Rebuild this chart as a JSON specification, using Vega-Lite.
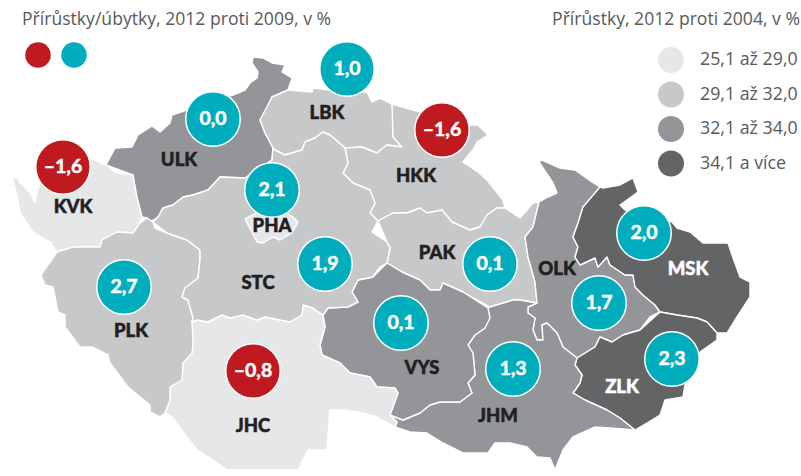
{
"$schema":"https://vega.github.io/schema/vega-lite/v6.json",
"width":801,"height":476,
"autosize":{"type":"fit","contains":"padding"},
"background":"white",
"padding":0,
"view":{"stroke":null},
"projection":{"type":"identity","scale":1,"translate":[0,0]},
"datasets":{
"kraje":[
{"type":"Feature","properties":{"kraj":"KVK","cat":"25,1 až 29,0"},"geometry":{"type":"Polygon","coordinates":[[[12,177],[18,178],[20,183],[25,187],[30,193],[35,203],[37,192],[40,183],[50,165],[63,155],[90,158],[106,165],[117,173],[133,175],[137,197],[142,217],[140,223],[133,233],[117,232],[102,240],[100,247],[73,247],[57,252],[50,242],[33,232],[20,213],[18,200],[8,188]]]}},
{"type":"Feature","properties":{"kraj":"ULK","cat":"32,1 až 34,0"},"geometry":{"type":"Polygon","coordinates":[[[106,165],[115,148],[132,147],[138,135],[152,126],[160,132],[170,123],[172,115],[187,110],[200,105],[233,95],[245,90],[250,83],[257,78],[258,72],[252,63],[253,57],[263,58],[272,63],[285,65],[282,72],[292,78],[288,90],[272,97],[268,110],[260,120],[265,133],[273,148],[272,160],[268,163],[245,178],[220,177],[208,190],[193,195],[183,197],[173,205],[163,208],[158,217],[150,222],[147,218],[142,217],[137,197],[133,175],[117,173]]]}},
{"type":"Feature","properties":{"kraj":"LBK","cat":"29,1 až 32,0"},"geometry":{"type":"Polygon","coordinates":[[[272,97],[288,90],[312,92],[313,88],[330,90],[367,92],[372,102],[380,98],[392,104],[395,120],[393,137],[402,147],[387,145],[377,153],[362,147],[345,148],[330,135],[323,132],[315,138],[305,142],[302,150],[285,155],[275,150],[273,148],[265,133],[260,120],[268,110]]]}},
{"type":"Feature","properties":{"kraj":"HKK","cat":"29,1 až 32,0"},"geometry":{"type":"Polygon","coordinates":[[[392,104],[420,112],[445,118],[468,125],[478,125],[488,135],[477,142],[475,147],[463,162],[478,172],[487,180],[495,190],[503,200],[505,208],[497,208],[487,215],[480,227],[470,230],[452,222],[442,210],[427,213],[420,208],[407,213],[393,213],[378,221],[370,213],[375,203],[370,190],[353,183],[343,173],[348,163],[345,148],[362,147],[377,153],[387,145],[402,147],[393,137],[395,120]]]}},
{"type":"Feature","properties":{"kraj":"PAK","cat":"29,1 až 32,0"},"geometry":{"type":"Polygon","coordinates":[[[378,221],[393,213],[407,213],[420,208],[427,213],[442,210],[452,222],[470,230],[480,227],[487,215],[497,208],[505,208],[520,218],[533,203],[539,202],[533,227],[525,237],[528,257],[535,282],[537,303],[520,300],[513,300],[490,307],[463,292],[443,283],[440,290],[430,290],[420,280],[402,272],[387,263],[390,248],[387,242],[372,232]]]}},
{"type":"Feature","properties":{"kraj":"OLK","cat":"32,1 až 34,0"},"geometry":{"type":"Polygon","coordinates":[[[539,162],[542,160],[560,168],[575,170],[592,182],[600,187],[598,195],[583,207],[578,223],[573,237],[578,247],[575,257],[580,265],[595,258],[598,267],[607,257],[610,265],[625,275],[633,275],[635,287],[643,295],[655,305],[660,312],[650,317],[640,330],[623,335],[612,342],[600,337],[595,347],[577,358],[563,347],[557,333],[547,323],[542,325],[543,340],[537,340],[533,330],[535,318],[528,313],[528,307],[537,303],[535,282],[528,257],[525,237],[533,227],[539,202],[548,197],[557,193],[553,183],[548,173]]]}},
{"type":"Feature","properties":{"kraj":"MSK","cat":"34,1 a více"},"geometry":{"type":"Polygon","coordinates":[[[600,187],[603,188],[620,185],[633,178],[638,192],[627,200],[620,205],[625,210],[650,215],[672,222],[677,228],[690,232],[703,243],[728,243],[732,255],[740,277],[750,282],[750,297],[737,317],[727,333],[717,333],[707,322],[697,318],[677,315],[660,312],[655,305],[643,295],[635,287],[633,275],[625,275],[610,265],[607,257],[598,267],[595,258],[580,265],[575,257],[578,247],[573,237],[578,223],[583,207],[598,195]]]}},
{"type":"Feature","properties":{"kraj":"ZLK","cat":"34,1 a více"},"geometry":{"type":"Polygon","coordinates":[[[660,312],[677,315],[697,318],[707,322],[717,333],[717,340],[700,352],[690,370],[685,385],[683,397],[665,400],[660,415],[647,423],[635,430],[620,418],[607,410],[585,400],[573,393],[580,383],[582,375],[575,365],[577,358],[595,347],[600,337],[612,342],[623,335],[640,330],[650,317]]]}},
{"type":"Feature","properties":{"kraj":"JHM","cat":"32,1 až 34,0"},"geometry":{"type":"Polygon","coordinates":[[[488,308],[490,307],[513,300],[520,300],[537,303],[528,307],[528,313],[535,318],[533,330],[537,340],[543,340],[542,325],[547,323],[557,333],[563,347],[577,358],[575,365],[582,375],[580,383],[573,393],[585,400],[607,410],[620,418],[635,430],[610,428],[595,427],[573,437],[563,450],[555,470],[550,458],[537,457],[527,447],[510,443],[495,443],[488,453],[470,453],[463,453],[443,443],[427,433],[410,432],[395,427],[397,422],[390,415],[403,420],[420,413],[430,405],[440,402],[460,402],[472,393],[468,383],[475,375],[473,353],[468,345],[475,335],[485,328],[490,318]]]}},
{"type":"Feature","properties":{"kraj":"VYS","cat":"32,1 až 34,0"},"geometry":{"type":"Polygon","coordinates":[[[387,263],[402,272],[420,280],[430,290],[440,290],[443,283],[463,292],[488,308],[490,318],[485,328],[475,335],[468,345],[473,353],[475,375],[468,383],[472,393],[460,402],[440,402],[430,405],[420,413],[403,420],[390,415],[398,393],[395,388],[377,387],[370,377],[350,373],[340,363],[322,355],[320,345],[325,327],[323,315],[328,308],[348,307],[358,302],[352,292],[358,280],[373,277],[380,267]]]}},
{"type":"Feature","properties":{"kraj":"JHC","cat":"25,1 až 29,0"},"geometry":{"type":"Polygon","coordinates":[[[192,322],[197,320],[208,322],[222,315],[230,318],[243,315],[257,320],[265,317],[290,322],[302,315],[303,305],[313,308],[323,315],[325,327],[320,345],[322,355],[340,363],[350,373],[370,377],[377,387],[395,388],[398,393],[390,415],[397,422],[395,427],[377,417],[362,413],[345,410],[330,410],[327,450],[308,450],[298,470],[227,470],[213,460],[197,450],[180,428],[172,417],[165,413],[170,400],[170,387],[182,380],[183,363],[192,353],[193,343]]]}},
{"type":"Feature","properties":{"kraj":"PLK","cat":"29,1 až 32,0"},"geometry":{"type":"Polygon","coordinates":[[[57,252],[73,247],[100,247],[102,240],[117,232],[133,233],[140,223],[147,218],[153,222],[155,228],[167,233],[187,240],[200,250],[200,260],[198,278],[185,288],[182,297],[188,300],[193,318],[192,322],[193,343],[192,353],[183,363],[182,380],[170,387],[170,400],[165,413],[160,417],[150,412],[150,405],[128,387],[110,363],[108,355],[92,347],[80,347],[65,327],[65,315],[58,312],[53,287],[45,285],[41,275],[45,270]]]}},
{"type":"Feature","properties":{"kraj":"STC","cat":"29,1 až 32,0"},"geometry":{"type":"Polygon","coordinates":[[[153,222],[158,217],[163,208],[173,205],[183,197],[193,195],[208,190],[220,177],[245,178],[268,163],[272,160],[273,148],[275,150],[285,155],[302,150],[305,142],[315,138],[323,132],[330,135],[345,148],[348,163],[343,173],[353,183],[370,190],[375,203],[370,213],[378,221],[372,232],[387,242],[390,248],[387,263],[380,267],[373,277],[358,280],[352,292],[358,302],[348,307],[328,308],[323,315],[313,308],[303,305],[302,315],[290,322],[265,317],[257,320],[243,315],[230,318],[222,315],[208,322],[197,320],[192,322],[193,318],[188,300],[182,297],[185,288],[198,278],[200,260],[200,250],[187,240],[167,233],[155,228]]]}},
{"type":"Feature","properties":{"kraj":"PHA","cat":"25,1 až 29,0"},"geometry":{"type":"Polygon","coordinates":[[[245,219],[258,212],[285,212],[293,217],[298,222],[292,233],[280,240],[273,237],[263,243],[257,242],[255,232]]]}}
],
"bubliny":[
{"kraj":"KVK","lon":63,"lat":167,"zmena":"–1,6","smer":"pokles"},
{"kraj":"ULK","lon":213,"lat":119,"zmena":"0,0","smer":"růst"},
{"kraj":"LBK","lon":347,"lat":69,"zmena":"1,0","smer":"růst"},
{"kraj":"HKK","lon":442,"lat":130,"zmena":"–1,6","smer":"pokles"},
{"kraj":"PHA","lon":272,"lat":190,"zmena":"2,1","smer":"růst"},
{"kraj":"STC","lon":325,"lat":264,"zmena":"1,9","smer":"růst"},
{"kraj":"VYS","lon":401,"lat":323,"zmena":"0,1","smer":"růst"},
{"kraj":"PAK","lon":490,"lat":264,"zmena":"0,1","smer":"růst"},
{"kraj":"PLK","lon":124,"lat":287,"zmena":"2,7","smer":"růst"},
{"kraj":"JHC","lon":253,"lat":371,"zmena":"–0,8","smer":"pokles"},
{"kraj":"MSK","lon":644,"lat":233,"zmena":"2,0","smer":"růst"},
{"kraj":"OLK","lon":599,"lat":303,"zmena":"1,7","smer":"růst"},
{"kraj":"JHM","lon":513,"lat":369,"zmena":"1,3","smer":"růst"},
{"kraj":"ZLK","lon":672,"lat":359,"zmena":"2,3","smer":"růst"}
],
"popisky":[
{"kraj":"KVK","lon":73,"lat":207,"barva":"tmava"},
{"kraj":"ULK","lon":179,"lat":160,"barva":"tmava"},
{"kraj":"LBK","lon":327,"lat":113,"barva":"tmava"},
{"kraj":"HKK","lon":416,"lat":176,"barva":"tmava"},
{"kraj":"PHA","lon":272,"lat":226,"barva":"tmava"},
{"kraj":"STC","lon":258,"lat":283,"barva":"tmava"},
{"kraj":"PAK","lon":437,"lat":253,"barva":"tmava"},
{"kraj":"OLK","lon":557,"lat":269,"barva":"tmava"},
{"kraj":"MSK","lon":688,"lat":269,"barva":"bila"},
{"kraj":"PLK","lon":131,"lat":331,"barva":"tmava"},
{"kraj":"JHC","lon":253,"lat":426,"barva":"tmava"},
{"kraj":"VYS","lon":422,"lat":368,"barva":"tmava"},
{"kraj":"JHM","lon":498,"lat":416,"barva":"tmava"},
{"kraj":"ZLK","lon":622,"lat":387,"barva":"bila"}
]
},
"resolve":{"scale":{"color":"independent"}},
"layer":[
{"data":{"name":"kraje"},
 "mark":{"type":"geoshape","stroke":"white","strokeWidth":1.4,"strokeJoin":"round"},
 "encoding":{"color":{"field":"properties.cat","type":"nominal",
   "scale":{"domain":["25,1 až 29,0","29,1 až 32,0","32,1 až 34,0","34,1 a více"],"range":["#e6e7e9","#c7c8ca","#939598","#636466"]},
   "legend":{"orient":"none","legendX":658,"legendY":47,"title":null,"symbolType":"circle","symbolSize":676,"symbolStrokeWidth":0,"labelFont":"Open Sans","labelFontSize":17.8,"labelColor":"#58595b","labelOffset":16,"rowPadding":8.5}}}},
{"data":{"name":"bubliny"},
 "mark":{"type":"point","filled":true,"shape":"circle","size":2970,"stroke":"white","strokeWidth":1.5,"opacity":1},
 "encoding":{"longitude":{"field":"lon","type":"quantitative"},"latitude":{"field":"lat","type":"quantitative"},
   "color":{"field":"smer","type":"nominal","scale":{"domain":["pokles","růst"],"range":["#be1a1f","#00adbd"]},"legend":null},"stroke":{"value":"white"}}},
{"data":{"values":[{"lon":38,"lat":55,"smer":"pokles"},{"lon":74,"lat":55,"smer":"růst"}]},
 "mark":{"type":"point","filled":true,"shape":"circle","size":650,"opacity":1},
 "encoding":{"longitude":{"field":"lon","type":"quantitative"},"latitude":{"field":"lat","type":"quantitative"},
   "color":{"field":"smer","type":"nominal","scale":{"domain":["pokles","růst"],"range":["#be1a1f","#00adbd"]},"legend":null}}},
{"data":{"name":"bubliny"},
 "mark":{"type":"text","font":"Lato","fontWeight":"bold","fontSize":19.5,"fill":"white","stroke":"white","strokeWidth":0.5,"baseline":"middle"},
 "encoding":{"longitude":{"field":"lon","type":"quantitative"},"latitude":{"field":"lat","type":"quantitative"},"text":{"field":"zmena"}}},
{"data":{"name":"popisky"},
 "mark":{"type":"text","font":"Lato","fontWeight":900,"fontSize":18.5,"baseline":"middle","strokeWidth":0.5},
 "encoding":{"longitude":{"field":"lon","type":"quantitative"},"latitude":{"field":"lat","type":"quantitative"},"text":{"field":"kraj"},
   "color":{"field":"barva","type":"nominal","scale":{"domain":["tmava","bila"],"range":["#231f20","#ffffff"]},"legend":null},
   "stroke":{"field":"barva","type":"nominal","scale":{"domain":["tmava","bila"],"range":["#231f20","#ffffff"]},"legend":null}}},
{"data":{"values":[{"lon":22,"lat":20,"t":"Přírůstky/úbytky, 2012 proti 2009, v %"}]},
 "mark":{"type":"text","font":"Open Sans","fontSize":17.6,"fill":"#58595b","align":"left","baseline":"middle"},
 "encoding":{"longitude":{"field":"lon","type":"quantitative"},"latitude":{"field":"lat","type":"quantitative"},"text":{"field":"t"}}},
{"data":{"values":[{"lon":800,"lat":20,"t":"Přírůstky, 2012 proti 2004, v %"}]},
 "mark":{"type":"text","font":"Open Sans","fontSize":17.6,"fill":"#58595b","align":"right","baseline":"middle"},
 "encoding":{"longitude":{"field":"lon","type":"quantitative"},"latitude":{"field":"lat","type":"quantitative"},"text":{"field":"t"}}}
]
}
